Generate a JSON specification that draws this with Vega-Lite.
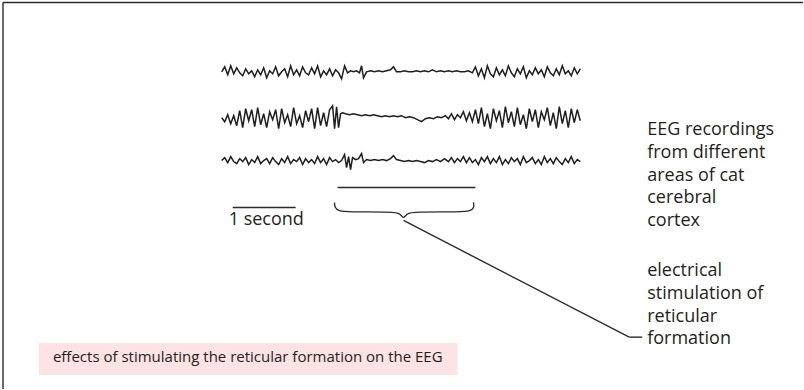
{
  "$schema": "https://vega.github.io/schema/vega-lite/v6.json",
  "width": 804,
  "height": 390,
  "padding": 0,
  "autosize": {"type": "fit", "contains": "padding"},
  "background": "white",
  "config": {"view": {"stroke": null}},
  "datasets": {
    "traces": [
      {"s":"a","x":222,"y":72},{"s":"a","x":225,"y":67},{"s":"a","x":228,"y":75},{"s":"a","x":231,"y":66},{"s":"a","x":234,"y":74},{"s":"a","x":237,"y":68},{"s":"a","x":240,"y":73},{"s":"a","x":243,"y":76},{"s":"a","x":246,"y":69},{"s":"a","x":249,"y":74},
      {"s":"a","x":252,"y":71},{"s":"a","x":255,"y":77},{"s":"a","x":258,"y":70},{"s":"a","x":261,"y":75},{"s":"a","x":264,"y":68},{"s":"a","x":267,"y":78},{"s":"a","x":270,"y":71},{"s":"a","x":273,"y":74},{"s":"a","x":276,"y":67},{"s":"a","x":279,"y":76},
      {"s":"a","x":282,"y":72},{"s":"a","x":285,"y":69},{"s":"a","x":288,"y":77},{"s":"a","x":291,"y":66},{"s":"a","x":294,"y":75},{"s":"a","x":297,"y":70},{"s":"a","x":300,"y":76},{"s":"a","x":303,"y":67},{"s":"a","x":306,"y":73},{"s":"a","x":309,"y":75},
      {"s":"a","x":312,"y":68},{"s":"a","x":315,"y":74},{"s":"a","x":318,"y":66},{"s":"a","x":321,"y":77},{"s":"a","x":324,"y":71},{"s":"a","x":327,"y":75},{"s":"a","x":330,"y":69},{"s":"a","x":333,"y":76},{"s":"a","x":336,"y":70},{"s":"a","x":339,"y":73},
      {"s":"a","x":342,"y":79},{"s":"a","x":345,"y":66},{"s":"a","x":348,"y":73},{"s":"a","x":351,"y":71},{"s":"a","x":354,"y":72},{"s":"a","x":357,"y":71},{"s":"a","x":360,"y":73},{"s":"a","x":362,"y":66},{"s":"a","x":364,"y":78},{"s":"a","x":367,"y":72},{"s":"a","x":371,"y":71},{"s":"a","x":375,"y":72},
      {"s":"a","x":379,"y":71},{"s":"a","x":383,"y":72},{"s":"a","x":387,"y":71},{"s":"a","x":391,"y":70},{"s":"a","x":394,"y":67},{"s":"a","x":397,"y":72},{"s":"a","x":401,"y":72},{"s":"a","x":405,"y":71},{"s":"a","x":409,"y":72},{"s":"a","x":413,"y":72},{"s":"a","x":417,"y":71},{"s":"a","x":421,"y":72},{"s":"a","x":425,"y":71},{"s":"a","x":429,"y":72},{"s":"a","x":433,"y":70},{"s":"a","x":437,"y":72},{"s":"a","x":441,"y":71},{"s":"a","x":445,"y":72},{"s":"a","x":449,"y":71},{"s":"a","x":453,"y":72},{"s":"a","x":457,"y":71},{"s":"a","x":461,"y":72},{"s":"a","x":465,"y":72},{"s":"a","x":469,"y":71},
      {"s":"a","x":473,"y":73},{"s":"a","x":476,"y":67},{"s":"a","x":479,"y":76},{"s":"a","x":482,"y":69},{"s":"a","x":485,"y":78},{"s":"a","x":488,"y":66},{"s":"a","x":491,"y":74},{"s":"a","x":494,"y":77},{"s":"a","x":497,"y":68},{"s":"a","x":500,"y":75},
      {"s":"a","x":503,"y":70},{"s":"a","x":506,"y":76},{"s":"a","x":509,"y":66},{"s":"a","x":512,"y":73},{"s":"a","x":515,"y":77},{"s":"a","x":518,"y":69},{"s":"a","x":521,"y":74},{"s":"a","x":524,"y":67},{"s":"a","x":527,"y":78},{"s":"a","x":530,"y":71},
      {"s":"a","x":533,"y":75},{"s":"a","x":536,"y":68},{"s":"a","x":539,"y":74},{"s":"a","x":542,"y":70},{"s":"a","x":545,"y":77},{"s":"a","x":548,"y":67},{"s":"a","x":551,"y":73},{"s":"a","x":554,"y":76},{"s":"a","x":557,"y":69},{"s":"a","x":560,"y":75},
      {"s":"a","x":563,"y":66},{"s":"a","x":566,"y":74},{"s":"a","x":569,"y":71},{"s":"a","x":572,"y":76},{"s":"a","x":575,"y":68},{"s":"a","x":578,"y":74},{"s":"a","x":581,"y":69},

      {"s":"b","x":222,"y":118},{"s":"b","x":225,"y":122},{"s":"b","x":228,"y":115},{"s":"b","x":231,"y":124},{"s":"b","x":234,"y":116},{"s":"b","x":237,"y":126},{"s":"b","x":240,"y":111},{"s":"b","x":243,"y":128},{"s":"b","x":246,"y":109},{"s":"b","x":249,"y":121},
      {"s":"b","x":252,"y":110},{"s":"b","x":255,"y":127},{"s":"b","x":258,"y":108},{"s":"b","x":261,"y":125},{"s":"b","x":264,"y":114},{"s":"b","x":267,"y":128},{"s":"b","x":270,"y":112},{"s":"b","x":273,"y":120},{"s":"b","x":276,"y":110},{"s":"b","x":279,"y":129},
      {"s":"b","x":282,"y":109},{"s":"b","x":285,"y":123},{"s":"b","x":288,"y":115},{"s":"b","x":291,"y":127},{"s":"b","x":294,"y":108},{"s":"b","x":297,"y":124},{"s":"b","x":300,"y":116},{"s":"b","x":303,"y":128},{"s":"b","x":306,"y":111},{"s":"b","x":309,"y":122},
      {"s":"b","x":312,"y":109},{"s":"b","x":315,"y":129},{"s":"b","x":318,"y":108},{"s":"b","x":321,"y":126},{"s":"b","x":324,"y":113},{"s":"b","x":327,"y":127},{"s":"b","x":330,"y":110},
      {"s":"b","x":333,"y":106},{"s":"b","x":335,"y":129},{"s":"b","x":337,"y":107},{"s":"b","x":339,"y":128},{"s":"b","x":341,"y":114},{"s":"b","x":343,"y":113},
      {"s":"b","x":346,"y":114},{"s":"b","x":350,"y":115},{"s":"b","x":354,"y":114},{"s":"b","x":358,"y":115},{"s":"b","x":362,"y":116},{"s":"b","x":366,"y":115},{"s":"b","x":370,"y":116},{"s":"b","x":374,"y":115},{"s":"b","x":378,"y":116},{"s":"b","x":382,"y":117},{"s":"b","x":386,"y":116},{"s":"b","x":390,"y":117},{"s":"b","x":394,"y":116},{"s":"b","x":398,"y":117},{"s":"b","x":402,"y":116},{"s":"b","x":406,"y":118},{"s":"b","x":410,"y":117},{"s":"b","x":414,"y":118},{"s":"b","x":418,"y":120},{"s":"b","x":422,"y":122},{"s":"b","x":426,"y":119},{"s":"b","x":430,"y":118},{"s":"b","x":434,"y":119},{"s":"b","x":438,"y":117},{"s":"b","x":442,"y":118},{"s":"b","x":446,"y":116},{"s":"b","x":449,"y":119},{"s":"b","x":452,"y":114},{"s":"b","x":455,"y":120},{"s":"b","x":458,"y":115},{"s":"b","x":461,"y":118},{"s":"b","x":464,"y":112},{"s":"b","x":467,"y":121},{"s":"b","x":470,"y":113},{"s":"b","x":473,"y":122},
      {"s":"b","x":476,"y":110},{"s":"b","x":479,"y":124},{"s":"b","x":482,"y":108},{"s":"b","x":485,"y":127},{"s":"b","x":488,"y":114},{"s":"b","x":491,"y":129},{"s":"b","x":494,"y":109},{"s":"b","x":497,"y":121},{"s":"b","x":500,"y":111},{"s":"b","x":503,"y":128},
      {"s":"b","x":506,"y":107},{"s":"b","x":509,"y":123},{"s":"b","x":512,"y":112},{"s":"b","x":515,"y":127},{"s":"b","x":518,"y":108},{"s":"b","x":521,"y":125},{"s":"b","x":524,"y":115},{"s":"b","x":527,"y":129},{"s":"b","x":530,"y":109},{"s":"b","x":533,"y":122},
      {"s":"b","x":536,"y":110},{"s":"b","x":539,"y":128},{"s":"b","x":542,"y":112},{"s":"b","x":545,"y":120},{"s":"b","x":548,"y":108},{"s":"b","x":551,"y":126},{"s":"b","x":554,"y":113},{"s":"b","x":557,"y":129},{"s":"b","x":560,"y":107},{"s":"b","x":563,"y":124},
      {"s":"b","x":566,"y":111},{"s":"b","x":569,"y":128},{"s":"b","x":572,"y":109},{"s":"b","x":575,"y":123},{"s":"b","x":578,"y":110},{"s":"b","x":581,"y":121},

      {"s":"c","x":222,"y":161},{"s":"c","x":225,"y":158},{"s":"c","x":228,"y":163},{"s":"c","x":231,"y":157},{"s":"c","x":234,"y":162},{"s":"c","x":237,"y":164},{"s":"c","x":240,"y":159},{"s":"c","x":243,"y":162},{"s":"c","x":246,"y":158},{"s":"c","x":249,"y":165},
      {"s":"c","x":252,"y":160},{"s":"c","x":255,"y":163},{"s":"c","x":258,"y":157},{"s":"c","x":261,"y":164},{"s":"c","x":264,"y":161},{"s":"c","x":267,"y":159},{"s":"c","x":270,"y":164},{"s":"c","x":273,"y":158},{"s":"c","x":276,"y":162},{"s":"c","x":279,"y":165},
      {"s":"c","x":282,"y":159},{"s":"c","x":285,"y":163},{"s":"c","x":288,"y":157},{"s":"c","x":291,"y":164},{"s":"c","x":294,"y":160},{"s":"c","x":297,"y":162},{"s":"c","x":300,"y":158},{"s":"c","x":303,"y":165},{"s":"c","x":306,"y":159},{"s":"c","x":309,"y":163},
      {"s":"c","x":312,"y":160},{"s":"c","x":315,"y":164},{"s":"c","x":318,"y":157},{"s":"c","x":321,"y":163},{"s":"c","x":324,"y":159},{"s":"c","x":327,"y":165},{"s":"c","x":330,"y":158},{"s":"c","x":333,"y":162},{"s":"c","x":336,"y":160},{"s":"c","x":339,"y":163},
      {"s":"c","x":342,"y":161},{"s":"c","x":345,"y":155},{"s":"c","x":347,"y":168},{"s":"c","x":349,"y":157},{"s":"c","x":351,"y":170},{"s":"c","x":353,"y":158},{"s":"c","x":356,"y":160},{"s":"c","x":359,"y":159},{"s":"c","x":362,"y":154},{"s":"c","x":364,"y":163},{"s":"c","x":367,"y":160},{"s":"c","x":371,"y":161},{"s":"c","x":375,"y":160},
      {"s":"c","x":379,"y":161},{"s":"c","x":383,"y":160},{"s":"c","x":387,"y":161},{"s":"c","x":391,"y":159},{"s":"c","x":394,"y":156},{"s":"c","x":397,"y":160},{"s":"c","x":401,"y":161},{"s":"c","x":405,"y":162},{"s":"c","x":409,"y":161},{"s":"c","x":413,"y":162},{"s":"c","x":417,"y":161},{"s":"c","x":421,"y":162},{"s":"c","x":425,"y":163},{"s":"c","x":429,"y":161},{"s":"c","x":433,"y":162},{"s":"c","x":437,"y":160},{"s":"c","x":441,"y":162},{"s":"c","x":445,"y":159},{"s":"c","x":449,"y":162},{"s":"c","x":452,"y":158},{"s":"c","x":455,"y":163},{"s":"c","x":458,"y":159},{"s":"c","x":461,"y":162},{"s":"c","x":464,"y":157},{"s":"c","x":467,"y":163},
      {"s":"c","x":470,"y":158},{"s":"c","x":473,"y":163},{"s":"c","x":476,"y":160},{"s":"c","x":479,"y":165},{"s":"c","x":482,"y":158},{"s":"c","x":485,"y":162},{"s":"c","x":488,"y":157},{"s":"c","x":491,"y":164},{"s":"c","x":494,"y":159},{"s":"c","x":497,"y":163},
      {"s":"c","x":500,"y":157},{"s":"c","x":503,"y":165},{"s":"c","x":506,"y":160},{"s":"c","x":509,"y":164},{"s":"c","x":512,"y":158},{"s":"c","x":515,"y":162},{"s":"c","x":518,"y":159},{"s":"c","x":521,"y":165},{"s":"c","x":524,"y":157},{"s":"c","x":527,"y":163},
      {"s":"c","x":530,"y":161},{"s":"c","x":533,"y":158},{"s":"c","x":536,"y":164},{"s":"c","x":539,"y":160},{"s":"c","x":542,"y":165},{"s":"c","x":545,"y":157},{"s":"c","x":548,"y":163},{"s":"c","x":551,"y":159},{"s":"c","x":554,"y":164},{"s":"c","x":557,"y":158},
      {"s":"c","x":560,"y":162},{"s":"c","x":563,"y":165},{"s":"c","x":566,"y":159},{"s":"c","x":569,"y":163},{"s":"c","x":572,"y":157},{"s":"c","x":575,"y":164},{"s":"c","x":578,"y":160},{"s":"c","x":581,"y":162}
    ],
    "brace": [
      {"o":1,"x":335,"y":203},{"o":2,"x":335,"y":208},{"o":3,"x":339,"y":211.5},{"o":4,"x":348,"y":212.5},{"o":5,"x":394,"y":212.5},{"o":6,"x":401,"y":214},{"o":7,"x":404,"y":220},{"o":8,"x":407,"y":214},{"o":9,"x":414,"y":212.5},{"o":10,"x":462,"y":212.5},{"o":11,"x":471,"y":211.5},{"o":12,"x":475,"y":208},{"o":13,"x":474,"y":203}
    ],
    "rules": [
      {"x":3,"x2":804,"y":2.5,"y2":2.5},
      {"x":3,"x2":3,"y":2.5,"y2":390},
      {"x":233,"x2":296,"y":208,"y2":208},
      {"x":338,"x2":476,"y":188,"y2":188},
      {"x":404,"x2":630,"y":221,"y2":338},
      {"x":630,"x2":643,"y":338,"y2":338}
    ],
    "labels": [
      {"x":229,"y":221,"t":"1 second"},
      {"x":648,"y":130,"t":"EEG recordings"},
      {"x":648,"y":153,"t":"from different"},
      {"x":648,"y":176,"t":"areas of cat"},
      {"x":648,"y":199,"t":"cerebral"},
      {"x":648,"y":222,"t":"cortex"},
      {"x":648,"y":272,"t":"electrical"},
      {"x":648,"y":295,"t":"stimulation of"},
      {"x":648,"y":318,"t":"reticular"},
      {"x":648,"y":340,"t":" formation"}
    ],
    "caption": [
      {"x":53,"y":358,"t":"effects of stimulating the reticular formation on the EEG"}
    ],
    "box": [{"x":39,"x2":458,"y":344,"y2":376}]
  },
  "layer": [
    {
      "data": {"name": "box"},
      "mark": {"type": "rect", "color": "#fde3e3"},
      "encoding": {
        "x": {"field": "x", "type": "quantitative", "scale": {"domain": [0, 804]}, "axis": null},
        "x2": {"field": "x2"},
        "y": {"field": "y", "type": "quantitative", "scale": {"domain": [0, 390], "reverse": true}, "axis": null},
        "y2": {"field": "y2"}
      }
    },
    {
      "data": {"name": "rules"},
      "mark": {"type": "rule", "color": "#2b2b2b", "strokeWidth": 1.4},
      "encoding": {
        "x": {"field": "x", "type": "quantitative", "scale": {"domain": [0, 804]}, "axis": null},
        "x2": {"field": "x2"},
        "y": {"field": "y", "type": "quantitative", "scale": {"domain": [0, 390], "reverse": true}, "axis": null},
        "y2": {"field": "y2"}
      }
    },
    {
      "data": {"name": "traces"},
      "mark": {"type": "line", "color": "#1e1e1e", "strokeWidth": 1.5, "strokeJoin": "miter"},
      "encoding": {
        "x": {"field": "x", "type": "quantitative", "scale": {"domain": [0, 804]}, "axis": null},
        "y": {"field": "y", "type": "quantitative", "scale": {"domain": [0, 390], "reverse": true}, "axis": null},
        "detail": {"field": "s", "type": "nominal"}
      }
    },
    {
      "data": {"name": "brace"},
      "mark": {"type": "line", "color": "#2b2b2b", "strokeWidth": 1.3, "interpolate": "basis"},
      "encoding": {
        "x": {"field": "x", "type": "quantitative", "scale": {"domain": [0, 804]}, "axis": null},
        "y": {"field": "y", "type": "quantitative", "scale": {"domain": [0, 390], "reverse": true}, "axis": null},
        "order": {"field": "o", "type": "quantitative"}
      }
    },
    {
      "data": {"name": "labels"},
      "mark": {"type": "text", "align": "left", "baseline": "middle", "font": "Open Sans", "fontSize": 18, "color": "#231f20"},
      "encoding": {
        "x": {"field": "x", "type": "quantitative", "scale": {"domain": [0, 804]}, "axis": null},
        "y": {"field": "y", "type": "quantitative", "scale": {"domain": [0, 390], "reverse": true}, "axis": null},
        "text": {"field": "t", "type": "nominal"}
      }
    },
    {
      "data": {"name": "caption"},
      "mark": {"type": "text", "align": "left", "baseline": "middle", "font": "Open Sans", "fontSize": 15, "color": "#231f20"},
      "encoding": {
        "x": {"field": "x", "type": "quantitative", "scale": {"domain": [0, 804]}, "axis": null},
        "y": {"field": "y", "type": "quantitative", "scale": {"domain": [0, 390], "reverse": true}, "axis": null},
        "text": {"field": "t", "type": "nominal"}
      }
    }
  ]
}
